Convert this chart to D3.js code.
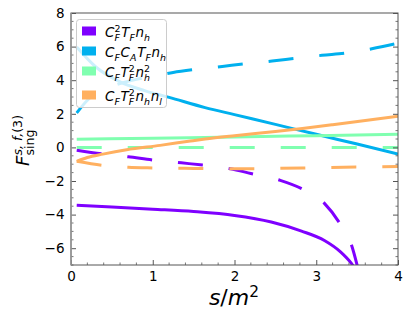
<!DOCTYPE html>
<html>
<head>
<meta charset="utf-8">
<script src="https://cdn.jsdelivr.net/npm/d3@7"></script>
<style>
  body { margin: 0; background: #fff; }
  text { font-family: "DejaVu Sans", sans-serif; fill: #000; }
</style>
</head>
<body>
<script>
// values
var sPurpleSolid = [0.07, 0.5, 1.0, 1.5, 2.0, 2.45, 2.82, 3.1, 3.3, 3.43, 3.5];
var vPurpleSolid = [-3.45, -3.55, -3.68, -3.82, -4.05, -4.44, -4.98, -5.54, -6.23, -6.9, -7.4];
var sPurpleDash = [0.07, 0.4, 0.7, 1.0, 1.35, 1.7, 1.95, 2.2, 2.56, 2.84, 3.1, 3.28, 3.43, 3.52];
var vPurpleDash = [-0.17, -0.4, -0.56, -0.75, -0.92, -1.1, -1.27, -1.55, -1.96, -2.5, -3.33, -4.46, -5.8, -7.4];

var sBlueSolid = [0.07, 0.3, 0.6, 0.9, 1.2, 1.64, 2.0, 2.5, 3.0, 3.5, 4.0];
var vBlueSolid = [5.97, 4.8, 3.9, 3.38, 2.98, 2.37, 1.95, 1.37, 0.78, 0.2, -0.39];
var sBlueDash = [0.07, 0.21, 0.4, 0.6, 0.8, 1.0, 1.25, 1.52, 1.85, 2.13, 2.46, 2.74, 3.07, 3.38, 3.68, 3.99];
var vBlueDash = [2.05, 2.85, 3.45, 3.8, 4.05, 4.22, 4.46, 4.64, 4.82, 4.98, 5.14, 5.3, 5.48, 5.63, 5.87, 6.19];

var sGreenSolid = [0.07, 1.0, 2.0, 3.0, 4.0];
var vGreenSolid = [0.48, 0.55, 0.62, 0.7, 0.78];
var sGreenDash = [0.07, 4.0];
var vGreenDash = [0, 0];

var sOrangeSolid = [0.07, 0.2, 0.39, 0.68, 1.09, 1.46, 1.64, 2.0, 2.5, 2.83, 3.2, 3.6, 4.0];
var vOrangeSolid = [-0.83, -0.6, -0.4, -0.14, 0.12, 0.38, 0.5, 0.7, 0.95, 1.13, 1.35, 1.6, 1.86];
var sOrangeDash = [0.07, 0.38, 0.7, 1.0, 1.5, 2.0, 2.5, 3.0, 3.5, 4.0];
var vOrangeDash = [-0.83, -1.07, -1.18, -1.22, -1.25, -1.27, -1.25, -1.21, -1.17, -1.13];

var xTicks = [0, 1, 2, 3, 4];
var yTicks = [-6, -4, -2, 0, 2, 4, 6, 8];

// legend labels, as (base, sub, sup) pieces; flag 1 = italic
var legendLabels = [
  [{b: [["C", 1]], sub: [["F", 1]], sup: [["2", 0]]}, {b: [["T", 1]], sub: [["F", 1]]}, {b: [["n", 1]], sub: [["h", 1]]}],
  [{b: [["C", 1]], sub: [["F", 1]]}, {b: [["C", 1]], sub: [["A", 1]]}, {b: [["T", 1]], sub: [["F", 1]]}, {b: [["n", 1]], sub: [["h", 1]]}],
  [{b: [["C", 1]], sub: [["F", 1]]}, {b: [["T", 1]], sub: [["F", 1]], sup: [["2", 0]]}, {b: [["n", 1]], sub: [["h", 1]], sup: [["2", 0]]}],
  [{b: [["C", 1]], sub: [["F", 1]]}, {b: [["T", 1]], sub: [["F", 1]], sup: [["2", 0]]}, {b: [["n", 1]], sub: [["h", 1]]}, {b: [["n", 1]], sub: [["l", 1]]}]
];
var colors = ["#7f00ff", "#00b0ee", "#80ffb0", "#ffb060"];

var series = [
  {s: sPurpleSolid, v: vPurpleSolid, c: 0, dash: false},
  {s: sPurpleDash, v: vPurpleDash, c: 0, dash: true},
  {s: sBlueSolid, v: vBlueSolid, c: 1, dash: false},
  {s: sBlueDash, v: vBlueDash, c: 1, dash: true},
  {s: sGreenSolid, v: vGreenSolid, c: 2, dash: false},
  {s: sGreenDash, v: vGreenDash, c: 2, dash: true},
  {s: sOrangeSolid, v: vOrangeSolid, c: 3, dash: false},
  {s: sOrangeDash, v: vOrangeDash, c: 3, dash: true}
];

var W = 410, H = 319;
var pL = 71, pR = 398, pT = 13, pB = 265;

var svg = d3.select("body").append("svg")
    .attr("width", W).attr("height", H);

var x = d3.scaleLinear().domain([0, 4]).range([pL, pR]);
var y = d3.scaleLinear().domain([-7, 8]).range([pB, pT]);

svg.append("clipPath").attr("id", "plot")
  .append("rect").attr("x", pL).attr("y", pT)
    .attr("width", pR - pL).attr("height", pB - pT);

// lines
var line = d3.line()
    .x(function(d) { return x(d[0]); })
    .y(function(d) { return y(d[1]); })
    .curve(d3.curveMonotoneX);

svg.append("g").attr("clip-path", "url(#plot)")
  .selectAll("path").data(series).enter().append("path")
    .attr("d", function(d) { return line(d3.zip(d.s, d.v)); })
    .attr("fill", "none")
    .attr("stroke", function(d) { return colors[d.c]; })
    .attr("stroke-width", 3)
    .attr("stroke-dasharray", function(d) { return d.dash ? "25 26" : null; });

// minor ticks
var xMinor = d3.range(0, 4.001, 0.2).filter(function(v) { return Math.abs(v - Math.round(v)) > 1e-6; });
var yMinor = d3.range(-7, 8.001, 0.5).filter(function(v) { return yTicks.indexOf(v) < 0; });

var ax = svg.append("g").attr("stroke", "#555").attr("stroke-width", 0.8);
ax.selectAll(".mx").data(xMinor).enter().append("line")
    .attr("x1", x).attr("x2", x).attr("y1", pB).attr("y2", pB - 2.5);
ax.selectAll(".myl").data(yMinor).enter().append("line")
    .attr("x1", pL).attr("x2", pL + 2.5).attr("y1", y).attr("y2", y);
ax.selectAll(".myr").data(yMinor).enter().append("line")
    .attr("x1", pR).attr("x2", pR - 2.5).attr("y1", y).attr("y2", y);

// major axes, ticks pointing inward
var gx = svg.append("g").attr("transform", "translate(0," + pB + ")")
    .call(d3.axisBottom(x).tickValues(xTicks).tickSizeInner(-5).tickSizeOuter(0).tickPadding(6.5)
      .tickFormat(d3.format("d")));
var gy = svg.append("g").attr("transform", "translate(" + pL + ",0)")
    .call(d3.axisLeft(y).tickValues(yTicks).tickSizeInner(-5).tickSizeOuter(0).tickPadding(6.5));
var gr = svg.append("g").attr("transform", "translate(" + pR + ",0)")
    .call(d3.axisRight(y).tickValues(yTicks).tickSizeInner(-5).tickSizeOuter(0).tickFormat(""));
[gx, gy, gr].forEach(function(g) {
  g.select(".domain").remove();
  g.selectAll(".tick line").attr("stroke", "#555");
  g.selectAll("text").style("font-size", "13.5px").attr("fill", "#000");
});

// frame
svg.append("rect").attr("x", pL).attr("y", pT)
    .attr("width", pR - pL).attr("height", pB - pT)
    .attr("fill", "none").attr("stroke", "#555").attr("stroke-width", 1);
svg.append("line").attr("x1", pL).attr("x2", pL).attr("y1", pT).attr("y2", pB)
    .attr("stroke", "#999").attr("stroke-width", 1.6);

// math text helper: draws pieces into g from x=0 on baseline 0, returns width
function mathText(g, tokens, size) {
  var cur = 0;
  function put(segs, fs, dy) {
    var w = 0;
    segs.forEach(function(sg) {
      var t = g.append("text").attr("x", cur + w).attr("y", dy)
          .style("font-size", fs + "px")
          .style("font-style", sg[1] ? "italic" : "normal")
          .text(sg[0]);
      w += t.node().getComputedTextLength();
    });
    return w;
  }
  tokens.forEach(function(tk) {
    cur += put(tk.b, size, 0);
    var ws = 0, wp = 0;
    if (tk.sub) ws = put(tk.sub, size * 0.7, size * 0.28);
    if (tk.sup) wp = put(tk.sup, size * 0.7, -size * 0.36);
    cur += Math.max(ws, wp) + size * 0.05;
  });
  return cur;
}

// legend
var rowY = [31, 51, 71, 95];
var lg = svg.append("g");
lg.append("rect").attr("x", 76.5).attr("y", 19.5).attr("width", 90).attr("height", 88).attr("rx", 3)
    .attr("fill", "#fff").attr("fill-opacity", 0.8).attr("stroke", "#ccc").attr("stroke-width", 1);
legendLabels.forEach(function(lab, i) {
  lg.append("rect").attr("x", 82).attr("y", rowY[i] - 4.5).attr("width", 14).attr("height", 9)
      .attr("fill", colors[i]);
  var tg = lg.append("g").attr("transform", "translate(105," + (rowY[i] + 6) + ")");
  mathText(tg, lab, 13.5);
});

// y label
var yl = svg.append("g");
var ylw = mathText(yl, [{b: [["F", 1]], sup: [["s, f, ", 1], ["(3)", 0]], sub: [["sing", 0]]}], 18);
yl.attr("transform", "translate(28.5," + (140 + ylw / 2) + ") rotate(-90)");

// x label
var xl = svg.append("g");
var xlw = mathText(xl, [{b: [["s", 1], ["/", 0], ["m", 1]], sup: [["2", 0]]}], 22);
xl.attr("transform", "translate(" + ((pL + pR) / 2 - xlw / 2) + ",305)");
</script>
</body>
</html>
